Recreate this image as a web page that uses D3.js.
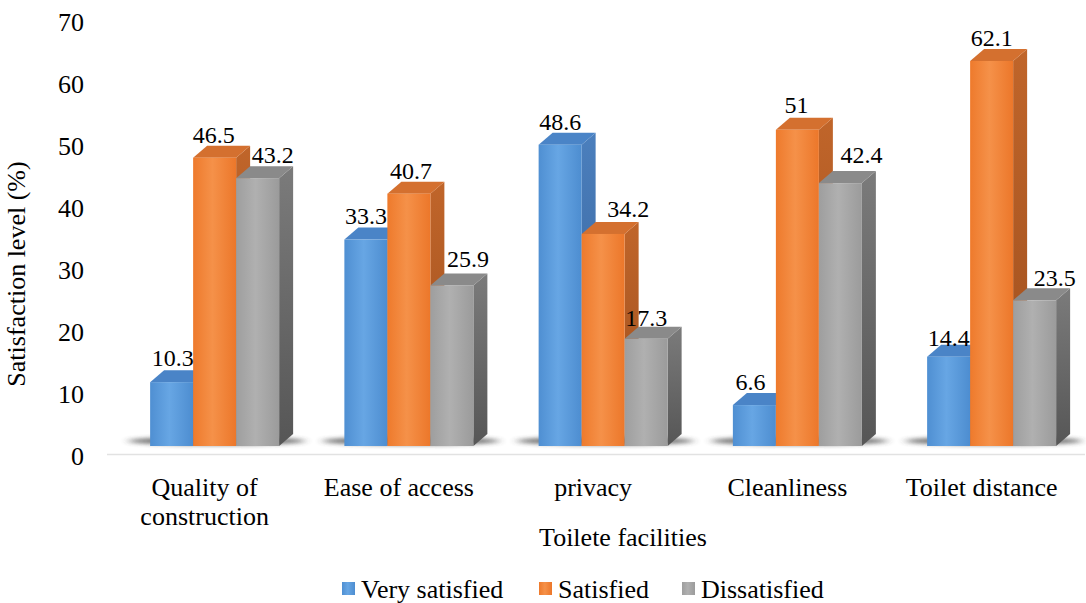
<!DOCTYPE html>
<html>
<head>
<meta charset="utf-8">
<script src="https://cdn.jsdelivr.net/npm/d3@7"></script>
<style>
  html, body { margin: 0; padding: 0; background: #ffffff; }
  svg { display: block; }
</style>
</head>
<body>
<svg id="chart" width="1086" height="603"></svg>
<script>
// Toilet facility satisfaction survey (%)
const categories = ["Quality of construction", "Ease of access", "privacy", "Cleanliness", "Toilet distance"];
const categoryLines = [["Quality of", "construction"], ["Ease of access"], ["privacy"], ["Cleanliness"], ["Toilet distance"]];
const seriesNames = ["Very satisfied", "Satisfied", "Dissatisfied"];
const verySatisfied = [10.3, 33.3, 48.6, 6.6, 14.4];
const satisfied = [46.5, 40.7, 34.2, 51, 62.1];
const dissatisfied = [43.2, 25.9, 17.3, 42.4, 23.5];
const yTicks = [0, 10, 20, 30, 40, 50, 60, 70];
const yTitle = "Satisfaction level (%)";
const xTitle = "Toilete facilities";

const seriesValues = [verySatisfied, satisfied, dissatisfied];
const FONT = "'Liberation Serif', 'Times New Roman', Times, serif";

// hand-placed value-label nudges [dx, dy] (per category, per series)
const labelNudge = [
  [[1, -16], [-1, -15], [15, -15]],
  [[0, -16], [2, -15], [16, -18]],
  [[0, -15], [25, -17], [0, -13]],
  [[-4, -15], [-1, -17], [21, -20]],
  [[0, -11], [0, -15], [20, -14]]
];

// face colours per series: front (left / mid / right), side, top
const palette = [
  { front: ["#4f8fd2", "#67a6e4", "#4d8dd0"], side: ["#4b7fbd", "#345e94"], top: "#4a84c7" },
  { front: ["#ee7a2c", "#f59149", "#ec772a"], side: ["#c0652a", "#9d4e1d"], top: "#d4702f" },
  { front: ["#9e9e9e", "#b0b0b0", "#9b9b9b"], side: ["#7b7b7b", "#565656"], top: "#8a8a8a" }
];

const svg = d3.select("#chart");
const defs = svg.append("defs");

palette.forEach((p, i) => {
  const fg = defs.append("linearGradient").attr("id", "front" + i)
    .attr("x1", 0).attr("x2", 1).attr("y1", 0).attr("y2", 0);
  fg.append("stop").attr("offset", "0%").attr("stop-color", p.front[0]);
  fg.append("stop").attr("offset", "45%").attr("stop-color", p.front[1]);
  fg.append("stop").attr("offset", "100%").attr("stop-color", p.front[2]);
  const sg = defs.append("linearGradient").attr("id", "side" + i)
    .attr("x1", 0).attr("x2", 0).attr("y1", 0).attr("y2", 1);
  sg.append("stop").attr("offset", "0%").attr("stop-color", p.side[0]);
  sg.append("stop").attr("offset", "100%").attr("stop-color", p.side[1]);
});

defs.append("filter").attr("id", "soft")
  .attr("x", "-20%").attr("y", "-200%").attr("width", "140%").attr("height", "500%")
  .append("feGaussianBlur").attr("stdDeviation", "4 2");

// scales: tick labels sit on the back wall, front faces are offset by the depth
const depthX = 14, depthY = -12;
const yAxisScale = d3.scaleLinear().domain([0, 70]).range([456, 22]);
const yFront = v => yAxisScale(v) - 10;

const x = d3.scaleBand().domain(categories).range([117.5, 1088.75]).paddingInner(0);
const groupWidth = 129;
const xSub = d3.scaleBand().domain(seriesNames).range([0, groupWidth]).padding(0);
const groupLeft = c => x(c) + (x.bandwidth() - groupWidth) / 2;

// y tick labels
svg.append("g").selectAll("text").data(yTicks).join("text")
  .attr("x", 84).attr("y", d => yAxisScale(d))
  .attr("dy", "0.35em").attr("text-anchor", "end")
  .attr("font-family", FONT)
  .attr("font-size", 26).attr("fill", "#000")
  .text(d => d);

// horizontal axis line
svg.append("line")
  .attr("x1", 107).attr("x2", 1085)
  .attr("y1", yAxisScale(0) - 1.5).attr("y2", yAxisScale(0) - 1.5)
  .attr("stroke", "#e2e2e2").attr("stroke-width", 1.5);

// floor shadows under each cluster
svg.append("g").selectAll("ellipse").data(categories).join("ellipse")
  .attr("cx", c => groupLeft(c) + groupWidth / 2 + 2)
  .attr("cy", yFront(0) - 5)
  .attr("rx", groupWidth / 2 + 24).attr("ry", 4)
  .attr("fill", "#3a3a3a").attr("opacity", 0.75)
  .attr("filter", "url(#soft)");

// bars
const bars = [];
categories.forEach((c, ci) => {
  seriesNames.forEach((s, si) => {
    bars.push({ c, ci, s, si, v: seriesValues[si][ci] });
  });
});

const barG = svg.append("g");
bars.forEach(b => {
  const x0 = groupLeft(b.c) + xSub(b.s);
  const w = xSub.bandwidth();
  const yt = yFront(b.v);
  const yb = yFront(0);
  const g = barG.append("g");
  // right side face
  g.append("path")
    .attr("d", `M${x0 + w},${yt} L${x0 + w + depthX},${yt + depthY} L${x0 + w + depthX},${yb + depthY} L${x0 + w},${yb} Z`)
    .attr("fill", `url(#side${b.si})`);
  // top face
  g.append("path")
    .attr("d", `M${x0},${yt} L${x0 + depthX},${yt + depthY} L${x0 + w + depthX},${yt + depthY} L${x0 + w},${yt} Z`)
    .attr("fill", palette[b.si].top);
  // front face
  g.append("rect")
    .attr("x", x0).attr("y", yt).attr("width", w).attr("height", yb - yt)
    .attr("fill", `url(#front${b.si})`);
});

// value labels
svg.append("g").selectAll("text").data(bars).join("text")
  .attr("x", b => groupLeft(b.c) + xSub(b.s) + xSub.bandwidth() / 2 + labelNudge[b.ci][b.si][0])
  .attr("y", b => yFront(b.v) + labelNudge[b.ci][b.si][1])
  .attr("text-anchor", "middle")
  .attr("font-family", FONT)
  .attr("font-size", 24).attr("fill", "#000")
  .text(b => b.v);

// category labels
const catG = svg.append("g").selectAll("text").data(categories).join("text")
  .attr("x", c => groupLeft(c) + groupWidth / 2 - 10)
  .attr("y", 496)
  .attr("text-anchor", "middle")
  .attr("font-family", FONT)
  .attr("font-size", 26).attr("fill", "#000");
catG.each(function (c, i) {
  d3.select(this).selectAll("tspan").data(categoryLines[i]).join("tspan")
    .attr("x", groupLeft(c) + groupWidth / 2 - 10)
    .attr("dy", (d, j) => j === 0 ? 0 : 29)
    .text(d => d);
});

// axis titles
svg.append("text")
  .attr("transform", "translate(25,274) rotate(-90)")
  .attr("text-anchor", "middle")
  .attr("font-family", FONT)
  .attr("font-size", 26).attr("fill", "#000")
  .text(yTitle);

svg.append("text")
  .attr("x", 623).attr("y", 546)
  .attr("text-anchor", "middle")
  .attr("font-family", FONT)
  .attr("font-size", 26).attr("fill", "#000")
  .text(xTitle);

// legend
const legendX = [342, 539, 682];
const legend = svg.append("g").selectAll("g").data(seriesNames).join("g")
  .attr("transform", (d, i) => `translate(${legendX[i]},582)`);
legend.append("rect").attr("width", 13).attr("height", 13)
  .attr("fill", (d, i) => `url(#front${i})`);
legend.append("text")
  .attr("x", 19).attr("y", 6.5).attr("dy", "0.35em")
  .attr("font-family", FONT)
  .attr("font-size", 26).attr("fill", "#000")
  .text(d => d);
</script>
</body>
</html>
